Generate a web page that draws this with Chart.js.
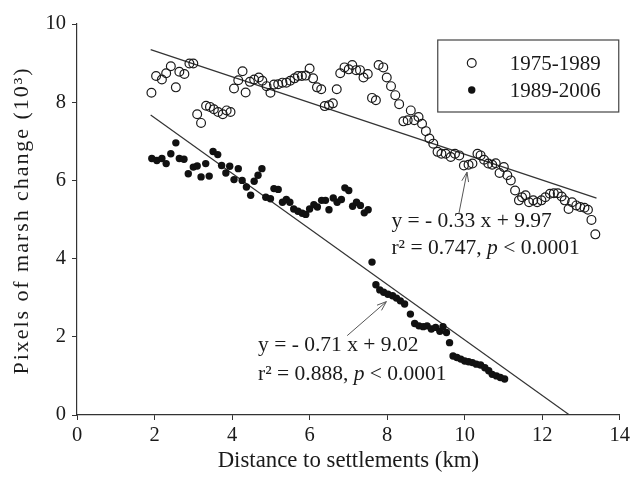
<!DOCTYPE html>
<html>
<head>
<meta charset="utf-8">
<script src="https://cdn.jsdelivr.net/npm/chart.js@4.4.0/dist/chart.umd.min.js"></script>
<style>
  html, body { margin: 0; padding: 0; background: #fff; }
  canvas { display: block; }
</style>
</head>
<body>
<canvas id="marshChart" width="633" height="478"></canvas>
<script>
// 1975-1989 (open circles)
const openX = [1.92,2.04,2.19,2.30,2.42,2.55,2.64,2.77,2.90,3.00,3.10,3.20,3.33,3.43,3.53,3.64,3.76,3.86,3.96,
  4.05,4.16,4.27,4.35,4.46,4.57,4.69,4.78,4.89,4.99,5.08,5.19,5.30,5.40,5.50,5.61,5.70,5.80,5.90,6.00,
  6.09,6.19,6.30,6.39,6.50,6.60,6.70,6.79,6.90,7.01,7.10,7.20,7.30,7.39,7.50,7.61,7.71,7.78,7.90,7.99,
  8.10,8.21,8.31,8.42,8.53,8.61,8.70,8.81,8.90,9.00,9.09,9.19,9.30,9.40,9.51,9.64,9.75,9.86,9.98,
  10.10,10.20,10.33,10.41,10.50,10.61,10.71,10.80,10.90,11.01,11.10,11.19,11.30,11.40,11.48,11.57,
  11.66,11.77,11.87,11.98,12.08,12.20,12.30,12.40,12.50,12.58,12.68,12.77,12.88,12.98,13.09,13.18,13.27,13.37];
const openY = [8.24,8.67,8.58,8.74,8.92,8.38,8.78,8.72,8.99,8.99,7.69,7.47,7.91,7.88,7.82,7.75,7.69,7.79,7.75,
  8.35,8.56,8.79,8.25,8.52,8.58,8.63,8.55,8.41,8.24,8.45,8.46,8.50,8.50,8.55,8.61,8.67,8.67,8.68,8.86,
  8.61,8.38,8.33,7.90,7.92,7.97,8.33,8.74,8.89,8.84,8.95,8.82,8.82,8.63,8.72,8.11,8.05,8.95,8.89,8.63,
  8.41,8.18,7.95,7.51,7.54,7.79,7.54,7.62,7.45,7.26,7.07,6.94,6.73,6.68,6.68,6.60,6.68,6.64,6.38,
  6.40,6.43,6.68,6.64,6.53,6.43,6.40,6.44,6.19,6.34,6.13,6.00,5.74,5.49,5.57,5.62,
  5.44,5.49,5.44,5.49,5.57,5.66,5.67,5.67,5.59,5.49,5.27,5.44,5.36,5.32,5.30,5.25,4.99,4.62];

// 1989-2006 (filled circles)
const fillX = [1.93,2.06,2.19,2.30,2.42,2.55,2.64,2.76,2.87,3.00,3.10,3.20,3.32,3.41,3.51,3.63,3.73,3.84,3.94,
  4.05,4.16,4.26,4.37,4.48,4.57,4.67,4.77,4.87,4.99,5.08,5.19,5.30,5.40,5.49,5.59,5.70,5.81,5.90,
  6.00,6.11,6.20,6.31,6.41,6.50,6.61,6.71,6.82,6.91,7.01,7.11,7.21,7.31,7.41,7.51,7.61,7.71,7.81,7.91,
  8.02,8.14,8.24,8.34,8.45,8.60,8.71,8.82,8.93,9.03,9.14,9.25,9.36,9.44,9.53,9.61,9.70,9.80,9.90,
  10.00,10.10,10.20,10.30,10.41,10.52,10.62,10.71,10.82,10.92,11.03];
const fillY = [6.56,6.51,6.56,6.43,6.68,6.96,6.56,6.54,6.17,6.34,6.37,6.09,6.43,6.11,6.74,6.66,6.38,6.19,6.36,
  6.02,6.30,6.00,5.83,5.62,5.98,6.13,6.30,5.57,5.53,5.79,5.77,5.44,5.51,5.44,5.27,5.21,5.16,5.13,
  5.27,5.38,5.32,5.49,5.49,5.25,5.55,5.44,5.51,5.81,5.74,5.34,5.44,5.36,5.17,5.25,3.91,3.33,3.20,3.14,
  3.09,3.05,2.99,2.92,2.84,2.58,2.34,2.28,2.26,2.28,2.20,2.24,2.14,2.26,2.11,1.85,1.51,1.47,1.43,
  1.38,1.36,1.34,1.30,1.28,1.21,1.13,1.04,1.00,0.96,0.92];

// regression lines: slope, intercept, x range
const fitOpen = { slope: -0.33, icpt: 9.97, from: 1.9, to: 13.4 };
const fitFill = { slope: -0.71, icpt: 9.02, from: 1.9, to: 9.02 / 0.71 };

const xTicks = [0, 2, 4, 6, 8, 10, 12, 14];
const yTicks = [0, 2, 4, 6, 8, 10];
const seriesNames = ['1975-1989', '1989-2006'];
const yTitle = 'Pixels of marsh change (10\u00b3)';

const FONT = '"Liberation Serif", "Times New Roman", serif';
const INK = '#1a1a1a';

function pts(xs, ys) { return xs.map((x, i) => ({ x: x, y: ys[i] })); }
function fitPts(f) {
  return [f.from, f.to].map(x => ({ x: x, y: f.slope * x + f.icpt }));
}

// text blocks + arrows, placed in data units
const notes = [
  { x: 8.11, y: 4.95, y2: 4.26, eq: 'y = - 0.33 x + 9.97', r2: '0.747',
    tail: [9.85, 5.15], tip: [10.06, 6.21] },
  { x: 4.67, y: 1.77, y2: 1.05, eq: 'y = - 0.71 x + 9.02', r2: '0.888',
    tail: [6.97, 2.03], tip: [7.98, 2.90] }
];

function drawSegs(ctx, x, y, segs) {
  segs.forEach(s => {
    ctx.font = (s[1] ? 'italic ' : '') + '21.5px ' + FONT;
    ctx.fillText(s[0], x, y);
    x += ctx.measureText(s[0]).width;
  });
}

const extras = {
  id: 'extras',
  afterDraw(chart) {
    const ctx = chart.ctx, xs = chart.scales.x, ys = chart.scales.y, ca = chart.chartArea;
    ctx.save();
    // y axis title (stretched like the original)
    ctx.save();
    ctx.translate(22, (ca.top + ca.bottom) / 2 + 2);
    ctx.rotate(-Math.PI / 2);
    ctx.font = '22px ' + FONT;
    ctx.fillStyle = INK;
    ctx.textAlign = 'left';
    ctx.textBaseline = 'middle';
    const w0 = ctx.measureText(yTitle).width;
    const gap = Math.max(0, (306 - w0) / (yTitle.length - 1));
    ctx.letterSpacing = gap + 'px';
    ctx.fillText(yTitle, -153, 0);
    ctx.restore();

    // legend box
    const bx = ca.right - 182, by = ca.top + 16, bw = 181, bh = 72;
    ctx.strokeStyle = '#444';
    ctx.lineWidth = 1.2;
    ctx.strokeRect(bx, by, bw, bh);
    ctx.textBaseline = 'middle';
    ctx.fillStyle = INK;
    ctx.font = '21px ' + FONT;
    [0, 1].forEach(i => {
      const cy = by + 23 + i * 27;
      ctx.beginPath();
      ctx.arc(bx + 34, cy, i ? 3.7 : 4.4, 0, Math.PI * 2);
      if (i) { ctx.fillStyle = '#111'; ctx.fill(); }
      else { ctx.strokeStyle = INK; ctx.lineWidth = 1.2; ctx.stroke(); }
      ctx.fillStyle = INK;
      ctx.fillText(seriesNames[i], bx + 72, cy + 1);
    });

    // equations and arrows
    notes.forEach(n => {
      const lx = xs.getPixelForValue(n.x);
      ctx.fillStyle = INK;
      ctx.textBaseline = 'middle';
      drawSegs(ctx, lx, ys.getPixelForValue(n.y), [[n.eq, false]]);
      drawSegs(ctx, lx, ys.getPixelForValue(n.y2),
        [['r\u00b2 = ' + n.r2 + ', ', false], ['p', true], [' < 0.0001', false]]);

      const x0 = xs.getPixelForValue(n.tail[0]), y0 = ys.getPixelForValue(n.tail[1]);
      const x1 = xs.getPixelForValue(n.tip[0]), y1 = ys.getPixelForValue(n.tip[1]);
      const a = Math.atan2(y1 - y0, x1 - x0), h = 10;
      ctx.strokeStyle = '#555';
      ctx.lineWidth = 1;
      ctx.beginPath();
      ctx.moveTo(x0, y0); ctx.lineTo(x1, y1);
      ctx.moveTo(x1 - h * Math.cos(a - 0.35), y1 - h * Math.sin(a - 0.35));
      ctx.lineTo(x1, y1);
      ctx.lineTo(x1 - h * Math.cos(a + 0.35), y1 - h * Math.sin(a + 0.35));
      ctx.stroke();
    });
    ctx.restore();
  }
};

const axisGrid = { drawOnChartArea: false, drawTicks: true, tickLength: 5, color: '#333', lineWidth: 1 };
const axisBorder = { display: true, color: '#333', width: 1.2 };

new Chart(document.getElementById('marshChart').getContext('2d'), {
  type: 'scatter',
  data: {
    datasets: [
      { label: seriesNames[0], data: pts(openX, openY), pointRadius: 4.4, pointBorderWidth: 1.2,
        borderColor: INK, backgroundColor: 'rgba(0,0,0,0)' },
      { label: seriesNames[1], data: pts(fillX, fillY), pointRadius: 3.7, pointBorderWidth: 0,
        borderColor: '#111', backgroundColor: '#111' },
      { type: 'line', data: fitPts(fitOpen), showLine: true, pointRadius: 0,
        borderColor: '#333', borderWidth: 1.2 },
      { type: 'line', data: fitPts(fitFill), showLine: true, pointRadius: 0,
        borderColor: '#333', borderWidth: 1.2 }
    ]
  },
  options: {
    responsive: false,
    animation: false,
    devicePixelRatio: 1,
    layout: { padding: { top: 24, right: 12, left: 0, bottom: 0 } },
    plugins: { legend: { display: false }, tooltip: { enabled: false } },
    scales: {
      x: {
        type: 'linear', min: 0, max: 14,
        afterBuildTicks: s => { s.ticks = xTicks.map(v => ({ value: v })); },
        afterFit: s => { s.height = 63; },
        ticks: { color: INK, font: { family: FONT, size: 20.5 }, padding: 3 },
        grid: axisGrid, border: axisBorder,
        title: { display: true, text: 'Distance to settlements (km)', color: INK,
          font: { family: FONT, size: 22.8 }, padding: { top: 0, bottom: 3 } }
      },
      y: {
        type: 'linear', min: 0, max: 10,
        afterBuildTicks: s => { s.ticks = yTicks.map(v => ({ value: v })); },
        afterFit: s => { s.width = 77; },
        ticks: { color: INK, font: { family: FONT, size: 20.5 }, padding: 6 },
        grid: axisGrid, border: axisBorder,
        title: { display: false }
      }
    }
  },
  plugins: [extras]
});
</script>
</body>
</html>
